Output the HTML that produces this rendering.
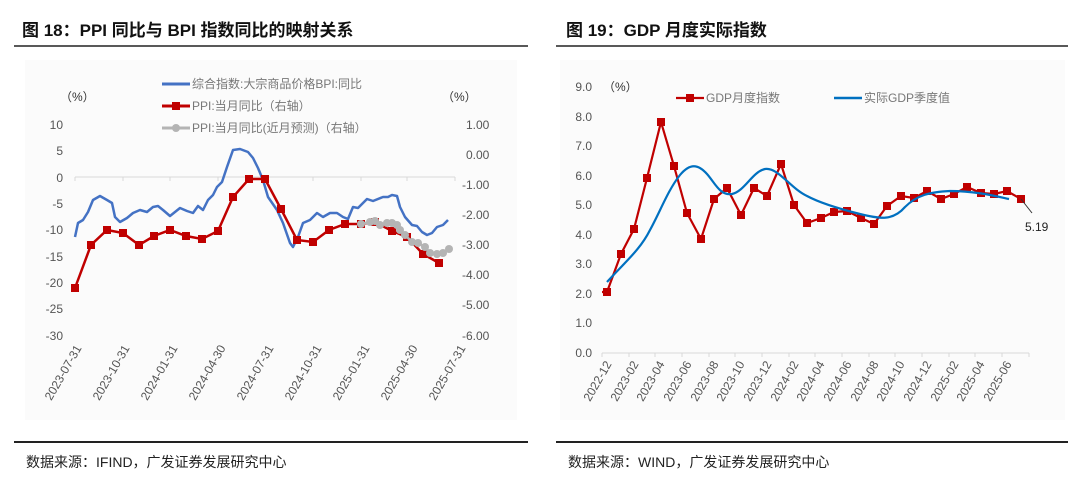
<!DOCTYPE html>
<html><head><meta charset="utf-8"><style>
body{margin:0;background:#fff;width:1080px;height:481px;overflow:hidden;font-family:"Liberation Sans","Noto Sans CJK SC",sans-serif}
</style></head><body>
<svg width="1080" height="481" xmlns="http://www.w3.org/2000/svg" font-family="Liberation Sans, Noto Sans CJK SC, sans-serif">
<rect x="25" y="60" width="492" height="360" fill="#fbfbfb"/>
<rect x="560" y="60" width="505" height="360" fill="#fbfbfb"/>
<text x="22" y="36" font-size="17" font-weight="bold" fill="#111">图 18：PPI 同比与 BPI 指数同比的映射关系</text>
<text x="566" y="36" font-size="17" font-weight="bold" fill="#111">图 19：GDP 月度实际指数</text>
<line x1="14" y1="46" x2="528" y2="46" stroke="#222" stroke-width="1.5"/>
<line x1="556" y1="46" x2="1068" y2="46" stroke="#222" stroke-width="1.5"/>
<line x1="14" y1="442" x2="528" y2="442" stroke="#222" stroke-width="2"/>
<line x1="556" y1="442" x2="1068" y2="442" stroke="#222" stroke-width="2"/>
<text x="26" y="467" font-size="14" fill="#222">数据来源：IFIND，广发证券发展研究中心</text>
<text x="568" y="467" font-size="14" fill="#222">数据来源：WIND，广发证券发展研究中心</text>

<!-- LEFT CHART -->
<g font-size="12" fill="#555">
<text x="60" y="101" fill="#333">（%）</text>
<text x="442" y="101" fill="#333">（%）</text>
<g text-anchor="end">
<text x="63" y="129">10</text><text x="63" y="155">5</text><text x="63" y="182">0</text><text x="63" y="208">-5</text><text x="63" y="234">-10</text><text x="63" y="261">-15</text><text x="63" y="287">-20</text><text x="63" y="313">-25</text><text x="63" y="340">-30</text>
</g>
<g>
<text x="466" y="129">1.00</text><text x="466" y="159">0.00</text><text x="462" y="189">-1.00</text><text x="462" y="219">-2.00</text><text x="462" y="249">-3.00</text><text x="462" y="279">-4.00</text><text x="462" y="309">-5.00</text><text x="462" y="340">-6.00</text>
</g>
</g>
<line x1="75" y1="177" x2="455" y2="177" stroke="#d8d8d8" stroke-width="1"/>
<g stroke="#d8d8d8"><line x1="75" y1="177" x2="75" y2="181"/><line x1="123" y1="177" x2="123" y2="181"/><line x1="170" y1="177" x2="170" y2="181"/><line x1="218" y1="177" x2="218" y2="181"/><line x1="265" y1="177" x2="265" y2="181"/><line x1="313" y1="177" x2="313" y2="181"/><line x1="361" y1="177" x2="361" y2="181"/><line x1="407" y1="177" x2="407" y2="181"/><line x1="455" y1="177" x2="455" y2="181"/></g>
<g font-size="12" fill="#555" text-anchor="end">
<text transform="translate(82,348) rotate(-60)">2023-07-31</text>
<text transform="translate(130,348) rotate(-60)">2023-10-31</text>
<text transform="translate(178,348) rotate(-60)">2024-01-31</text>
<text transform="translate(226,348) rotate(-60)">2024-04-30</text>
<text transform="translate(274,348) rotate(-60)">2024-07-31</text>
<text transform="translate(322,348) rotate(-60)">2024-10-31</text>
<text transform="translate(370,348) rotate(-60)">2025-01-31</text>
<text transform="translate(418,348) rotate(-60)">2025-04-30</text>
<text transform="translate(466,348) rotate(-60)">2025-07-31</text>
</g>
<polyline fill="none" stroke="#4472c4" stroke-width="2.5" stroke-linejoin="round" points="75,237 78,223 83,220 88,212 93,200 100,196 107,200 112,203 115,217 120,222 127,218 133,213 140,210 147,212 153,207 158,206 163,210 170,216 175,212 180,208 187,211 193,213 198,206 203,210 208,200 213,195 217,187 222,182 227,167 233,150 240,149 248,152 253,158 258,168 263,180 268,197 277,210 283,223 290,243 293,247 298,237 303,223 310,220 317,213 323,217 330,213 337,213 343,217 348,219 353,207 358,208 367,199 373,201 383,197 388,197 392,195 397,196 400,207 405,217 412,225 417,226 422,232 427,235 432,233 437,227 443,225 448,220"/>
<polyline fill="none" stroke="#c00000" stroke-width="2.5" points="75,288 91,245 107,230 123,233 139,245 154,236 170,230 186,236 202,239 218,231 233,197 249,179 265,179 281,209 297,240 313,242 329,230 345,224 361,224 375,222 392,231 407,237 423,254 439,263"/>
<g fill="#c00000"><rect x="71" y="284" width="8" height="8"/><rect x="87" y="241" width="8" height="8"/><rect x="103" y="226" width="8" height="8"/><rect x="119" y="229" width="8" height="8"/><rect x="135" y="241" width="8" height="8"/><rect x="150" y="232" width="8" height="8"/><rect x="166" y="226" width="8" height="8"/><rect x="182" y="232" width="8" height="8"/><rect x="198" y="235" width="8" height="8"/><rect x="214" y="227" width="8" height="8"/><rect x="229" y="193" width="8" height="8"/><rect x="245" y="175" width="8" height="8"/><rect x="261" y="175" width="8" height="8"/><rect x="277" y="205" width="8" height="8"/><rect x="293" y="236" width="8" height="8"/><rect x="309" y="238" width="8" height="8"/><rect x="325" y="226" width="8" height="8"/><rect x="341" y="220" width="8" height="8"/><rect x="357" y="220" width="8" height="8"/><rect x="371" y="218" width="8" height="8"/><rect x="388" y="227" width="8" height="8"/><rect x="403" y="233" width="8" height="8"/><rect x="419" y="250" width="8" height="8"/><rect x="435" y="259" width="8" height="8"/></g>
<polyline fill="none" stroke="#b4b4b4" stroke-width="2.5" points="361,224 370,222 375,221 380,225 387,223 392,223 397,225 400,230 405,235 412,242 418,243 425,247 430,253 437,254 443,253 449,249"/>
<g fill="#b4b4b4"><circle cx="361" cy="224" r="4"/><circle cx="370" cy="222" r="4"/><circle cx="375" cy="221" r="4"/><circle cx="380" cy="225" r="4"/><circle cx="387" cy="223" r="4"/><circle cx="392" cy="223" r="4"/><circle cx="397" cy="225" r="4"/><circle cx="400" cy="230" r="4"/><circle cx="405" cy="235" r="4"/><circle cx="412" cy="242" r="4"/><circle cx="418" cy="243" r="4"/><circle cx="425" cy="247" r="4"/><circle cx="430" cy="253" r="4"/><circle cx="437" cy="254" r="4"/><circle cx="443" cy="253" r="4"/><circle cx="449" cy="249" r="4"/></g>
<g font-size="12" fill="#777">
<line x1="162" y1="84" x2="190" y2="84" stroke="#4472c4" stroke-width="3"/><text x="192" y="88">综合指数:大宗商品价格BPI:同比</text>
<line x1="162" y1="106" x2="190" y2="106" stroke="#c00000" stroke-width="3"/><rect x="172" y="102" width="8" height="8" fill="#c00000"/><text x="192" y="110">PPI:当月同比（右轴）</text>
<line x1="162" y1="128" x2="190" y2="128" stroke="#b4b4b4" stroke-width="3"/><circle cx="176" cy="128" r="4" fill="#b4b4b4"/><text x="192" y="132">PPI:当月同比(近月预测)（右轴）</text>
</g>

<!-- RIGHT CHART -->
<g font-size="12" fill="#555" text-anchor="end">
<text x="592" y="91">9.0</text><text x="592" y="121">8.0</text><text x="592" y="150">7.0</text><text x="592" y="180">6.0</text><text x="592" y="209">5.0</text><text x="592" y="239">4.0</text><text x="592" y="268">3.0</text><text x="592" y="298">2.0</text><text x="592" y="327">1.0</text><text x="592" y="357">0.0</text>
</g>
<text x="603" y="91" font-size="12" fill="#333">（%）</text>
<line x1="602" y1="353" x2="1029" y2="353" stroke="#d8d8d8"/>
<g stroke="#d8d8d8"><line x1="602" y1="353" x2="602" y2="357"/><line x1="629" y1="353" x2="629" y2="357"/><line x1="655" y1="353" x2="655" y2="357"/><line x1="682" y1="353" x2="682" y2="357"/><line x1="709" y1="353" x2="709" y2="357"/><line x1="735" y1="353" x2="735" y2="357"/><line x1="762" y1="353" x2="762" y2="357"/><line x1="789" y1="353" x2="789" y2="357"/><line x1="815" y1="353" x2="815" y2="357"/><line x1="842" y1="353" x2="842" y2="357"/><line x1="869" y1="353" x2="869" y2="357"/><line x1="895" y1="353" x2="895" y2="357"/><line x1="922" y1="353" x2="922" y2="357"/><line x1="949" y1="353" x2="949" y2="357"/><line x1="975" y1="353" x2="975" y2="357"/><line x1="1002" y1="353" x2="1002" y2="357"/><line x1="1029" y1="353" x2="1029" y2="357"/></g>
<g font-size="12" fill="#555" text-anchor="end">
<text transform="translate(612,364) rotate(-60)">2022-12</text>
<text transform="translate(639,364) rotate(-60)">2023-02</text>
<text transform="translate(665,364) rotate(-60)">2023-04</text>
<text transform="translate(692,364) rotate(-60)">2023-06</text>
<text transform="translate(719,364) rotate(-60)">2023-08</text>
<text transform="translate(745,364) rotate(-60)">2023-10</text>
<text transform="translate(772,364) rotate(-60)">2023-12</text>
<text transform="translate(799,364) rotate(-60)">2024-02</text>
<text transform="translate(825,364) rotate(-60)">2024-04</text>
<text transform="translate(852,364) rotate(-60)">2024-06</text>
<text transform="translate(879,364) rotate(-60)">2024-08</text>
<text transform="translate(905,364) rotate(-60)">2024-10</text>
<text transform="translate(932,364) rotate(-60)">2024-12</text>
<text transform="translate(959,364) rotate(-60)">2025-02</text>
<text transform="translate(985,364) rotate(-60)">2025-04</text>
<text transform="translate(1012,364) rotate(-60)">2025-06</text>
</g>
<polyline fill="none" stroke="#c00000" stroke-width="2.2" points="602,292 607,292 621,254 634,229 647,178 661,122 674,166 687,213 701,239 714,199 727,188 741,215 754,188 767,196 781,164 794,205 807,223 821,218 834,212 847,211 861,218 874,224 887,206 901,196 914,198 927,191 941,199 954,194 967,187 981,193 994,194 1007,191 1021,199"/>
<g fill="#c00000"><rect x="603" y="288" width="8" height="8"/><rect x="617" y="250" width="8" height="8"/><rect x="630" y="225" width="8" height="8"/><rect x="643" y="174" width="8" height="8"/><rect x="657" y="118" width="8" height="8"/><rect x="670" y="162" width="8" height="8"/><rect x="683" y="209" width="8" height="8"/><rect x="697" y="235" width="8" height="8"/><rect x="710" y="195" width="8" height="8"/><rect x="723" y="184" width="8" height="8"/><rect x="737" y="211" width="8" height="8"/><rect x="750" y="184" width="8" height="8"/><rect x="763" y="192" width="8" height="8"/><rect x="777" y="160" width="8" height="8"/><rect x="790" y="201" width="8" height="8"/><rect x="803" y="219" width="8" height="8"/><rect x="817" y="214" width="8" height="8"/><rect x="830" y="208" width="8" height="8"/><rect x="843" y="207" width="8" height="8"/><rect x="857" y="214" width="8" height="8"/><rect x="870" y="220" width="8" height="8"/><rect x="883" y="202" width="8" height="8"/><rect x="897" y="192" width="8" height="8"/><rect x="910" y="194" width="8" height="8"/><rect x="923" y="187" width="8" height="8"/><rect x="937" y="195" width="8" height="8"/><rect x="950" y="190" width="8" height="8"/><rect x="963" y="183" width="8" height="8"/><rect x="977" y="189" width="8" height="8"/><rect x="990" y="190" width="8" height="8"/><rect x="1003" y="187" width="8" height="8"/><rect x="1017" y="195" width="8" height="8"/></g>
<path fill="none" stroke="#0070c0" stroke-width="2.2" d="M607,282 C625,262 640,250 650,230 C660,212 668,190 680,175 C690,163 698,164 707,174 C715,183 720,196 732,194 C745,191 752,172 765,169 C778,167 790,188 807,196 C820,203 840,209 860,214 C880,219 893,221 905,207 C917,195 930,192 950,191 C975,191 995,196 1009,199"/>
<line x1="1021" y1="199" x2="1032" y2="213" stroke="#333"/>
<text x="1025" y="231" font-size="12" fill="#222">5.19</text>
<g font-size="12" fill="#777">
<line x1="676" y1="98" x2="704" y2="98" stroke="#c00000" stroke-width="2.2"/><rect x="686" y="94" width="8" height="8" fill="#c00000"/><text x="706" y="102">GDP月度指数</text>
<line x1="834" y1="98" x2="862" y2="98" stroke="#0070c0" stroke-width="2.5"/><text x="864" y="102">实际GDP季度值</text>
</g>
</svg>
</body></html>
